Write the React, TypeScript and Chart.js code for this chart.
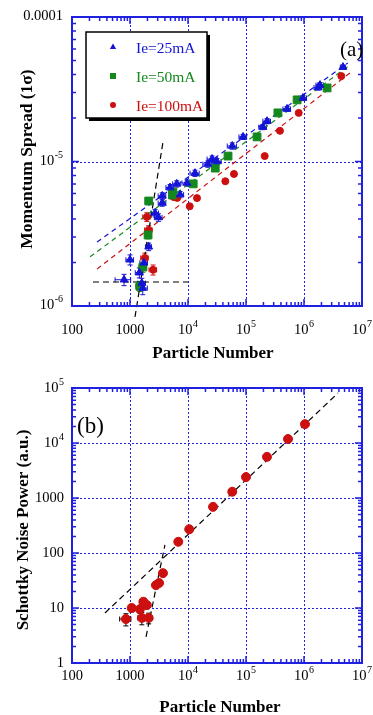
import React, { useEffect, useRef } from 'react';
import { Chart, registerables } from 'chart.js';
Chart.register(...registerables);

const SERIF = '"Liberation Serif", "Times New Roman", Times, serif';
const BLUE = '#1414d6';
const GREEN = '#14881e';
const RED = '#cc1010';
const FRAME = '#2020e0';

// ---- axes ----
const xTicks = [100, 1000, 1e4, 1e5, 1e6, 1e7];
const xTickLabels = [['100', ''], ['1000', ''], ['10', '4'], ['10', '5'], ['10', '6'], ['10', '7']];
const yTicksA = [1e-6, 1e-5, 1e-4];
const yTickLabelsA = [['10', '-6'], ['10', '-5'], ['0.0001', '']];
const yTicksB = [1, 10, 100, 1000, 1e4, 1e5];
const yTickLabelsB = [['1', ''], ['10', ''], ['100', ''], ['1000', ''], ['10', '4'], ['10', '5']];

const seriesNames = ['Ie=25mA', 'Ie=50mA', 'Ie=100mA'];

// ---- panel (a): [particle number, momentum spread, rel. err N, rel. err sigma] ----
const ie25 = [
  [790, 1.52e-6, 0.3, 0.09], [1000, 2.09e-6, 0.15, 0.08], [1450, 1.7e-6, 0.15, 0.08],
  [1660, 1.33e-6, 0.2, 0.1], [1600, 1.44e-6, 0.15, 0.08], [1740, 1.99e-6, 0.15, 0.08],
  [2100, 2.57e-6, 0.12, 0.06], [2700, 4.4e-6, 0.15, 0.06], [3100, 4.1e-6, 0.15, 0.06],
  [3600, 5.78e-6, 0.15, 0.05], [3600, 5.16e-6, 0.15, 0.05], [4900, 6.6e-6, 0.15, 0.05],
  [6400, 7.0e-6, 0.15, 0.05], [7300, 5.9e-6, 0.15, 0.05], [9600, 7.1e-6, 0.18, 0.05],
  [13200, 8.3e-6, 0.18, 0.05], [22000, 9.6e-6, 0.18, 0.05], [26000, 1.04e-5, 0.18, 0.05],
  [31600, 1.0e-5, 0.18, 0.05], [58000, 1.28e-5, 0.18, 0.05], [89000, 1.48e-5, 0.15, 0.04],
  [196000, 1.73e-5, 0.15, 0.04], [230000, 1.9e-5, 0.15, 0.04], [510000, 2.31e-5, 0.15, 0.04],
  [960000, 2.75e-5, 0.15, 0.04], [1.75e6, 3.25e-5, 0.15, 0.04], [1.89e6, 3.38e-5, 0.15, 0.04],
  [4.7e6, 4.5e-5, 0.1, 0.03],
];
const ie50 = [
  [1480, 1.37e-6, 0.15, 0.08], [1670, 1.86e-6, 0.15, 0.08], [2050, 3.1e-6, 0.12, 0.06],
  [2100, 5.33e-6, 0.12, 0.05], [5500, 6.15e-6, 0.1, 0.04], [5400, 5.86e-6, 0.1, 0.04],
  [12300, 7.0e-6, 0.08, 0.03], [29500, 9.0e-6, 0.08, 0.03], [49000, 1.09e-5, 0.08, 0.03],
  [155000, 1.48e-5, 0.08, 0.03], [355000, 2.17e-5, 0.08, 0.03], [760000, 2.67e-5, 0.08, 0.03],
  [2.5e6, 3.23e-5, 0.08, 0.03],
];
const ie100 = [
  [1800, 2.15e-6, 0.15, 0.08], [2500, 1.78e-6, 0.15, 0.08], [1950, 4.13e-6, 0.15, 0.07],
  [2100, 3.36e-6, 0.15, 0.07], [6500, 5.6e-6, 0.1, 0.04], [5700, 5.67e-6, 0.1, 0.04],
  [10700, 4.9e-6, 0.08, 0.03], [14300, 5.58e-6, 0.08, 0.03], [44000, 7.3e-6, 0.08, 0.03],
  [62000, 8.2e-6, 0.08, 0.03], [210000, 1.09e-5, 0.08, 0.03], [385000, 1.63e-5, 0.08, 0.03],
  [810000, 2.17e-5, 0.08, 0.03], [4.4e6, 3.9e-5, 0.08, 0.03],
];
const fit25 = [[270, 2.77e-6], [5.7e6, 4.8e-5]];
const fit50 = [[205, 2.19e-6], [6.2e6, 4.66e-5]];
const fit100 = [[270, 1.8e-6], [6.2e6, 4.1e-5]];
const steepA = [[1220, 8.4e-7], [3700, 1.36e-5]];
const flatA = [[230, 1.466e-6], [1e4, 1.466e-6]];

// ---- panel (b): [particle number, Schottky noise power, rel. err N, rel. err P] ----
const noise = [
  [850, 6.3, 0.22, 0.25], [1070, 10, 0.12, 0.15], [1480, 9.5, 0.12, 0.15],
  [1600, 6.6, 0.15, 0.25], [1740, 12.3, 0.12, 0.15], [1700, 13, 0.12, 0.15],
  [1950, 11.3, 0.12, 0.15], [2100, 6.6, 0.15, 0.22], [2800, 26, 0.1, 0.08],
  [3170, 28.5, 0.1, 0.08], [3700, 43, 0.08, 0.05], [6800, 160, 0.05, 0.03],
  [10500, 270, 0.05, 0.03], [27000, 690, 0.05, 0.03], [58000, 1300, 0.05, 0.03],
  [100000, 2400, 0.05, 0.03], [230000, 5600, 0.05, 0.03], [530000, 11800, 0.05, 0.03],
  [1.04e6, 22000, 0.05, 0.03],
];
const noiseFit = [[370, 8.1], [3.86e6, 8.1e4]];
const noiseSteep = [[1890, 3.0], [4000, 140]];

function drawPow(ctx: CanvasRenderingContext2D, base: string, exp: string, x: number, y: number, align: string, fs: number, efs: number) {
  ctx.font = `${fs}px ${SERIF}`;
  const wb = ctx.measureText(base).width;
  ctx.font = `${efs}px ${SERIF}`;
  const we = exp ? ctx.measureText(exp).width + 0.5 : 0;
  const total = wb + we;
  const x0 = align === 'center' ? x - total / 2 : x - total;
  ctx.textAlign = 'left';
  ctx.textBaseline = 'alphabetic';
  ctx.font = `${fs}px ${SERIF}`;
  ctx.fillText(base, x0, y);
  if (exp) {
    ctx.font = `${efs}px ${SERIF}`;
    ctx.fillText(exp, x0 + wb + 0.5, y - fs * 0.45);
  }
}

function marker(ctx: CanvasRenderingContext2D, style: string, x: number, y: number, r: number, color: string) {
  ctx.fillStyle = color;
  ctx.beginPath();
  if (style === 'triangle') {
    ctx.moveTo(x, y - r);
    ctx.lineTo(x + r * 0.9, y + r * 0.6);
    ctx.lineTo(x - r * 0.9, y + r * 0.6);
    ctx.closePath();
  } else if (style === 'rect') {
    ctx.rect(x - r, y - r, 2 * r, 2 * r);
  } else {
    ctx.arc(x, y, r, 0, Math.PI * 2);
  }
  ctx.fill();
}

function makePlugin(cfg: any) {
  return {
    id: 'frame' + cfg.tag,
    beforeDatasetsDraw(chart: any) {
      const { ctx, chartArea: a } = chart;
      const sx = chart.scales.x;
      const sy = chart.scales.y;
      ctx.save();
      ctx.strokeStyle = FRAME;
      ctx.lineWidth = 1;
      ctx.setLineDash([2, 2]);
      for (const v of xTicks) {
        const px = Math.round(sx.getPixelForValue(v)) + 0.5;
        ctx.beginPath(); ctx.moveTo(px, a.top); ctx.lineTo(px, a.bottom); ctx.stroke();
      }
      for (const v of cfg.yTicks) {
        const py = Math.round(sy.getPixelForValue(v)) + 0.5;
        ctx.beginPath(); ctx.moveTo(a.left, py); ctx.lineTo(a.right, py); ctx.stroke();
      }
      ctx.setLineDash([]);
      // error bars
      for (const set of cfg.errSets) {
        ctx.strokeStyle = set.color;
        ctx.lineWidth = 1;
        for (const p of set.data) {
          const cx = sx.getPixelForValue(p[0]);
          const cy = sy.getPixelForValue(p[1]);
          const x1 = sx.getPixelForValue(p[0] * (1 - p[2]));
          const x2 = sx.getPixelForValue(p[0] * (1 + p[2]));
          const y1 = sy.getPixelForValue(p[1] * (1 - p[3]));
          const y2 = sy.getPixelForValue(p[1] * (1 + p[3]));
          const c = 2.5;
          ctx.beginPath();
          ctx.moveTo(x1, cy); ctx.lineTo(x2, cy);
          ctx.moveTo(x1, cy - c); ctx.lineTo(x1, cy + c);
          ctx.moveTo(x2, cy - c); ctx.lineTo(x2, cy + c);
          ctx.moveTo(cx, y1); ctx.lineTo(cx, y2);
          ctx.moveTo(cx - c, y1); ctx.lineTo(cx + c, y1);
          ctx.moveTo(cx - c, y2); ctx.lineTo(cx + c, y2);
          ctx.stroke();
        }
      }
      ctx.restore();
    },
    afterDatasetsDraw(chart: any) {
      const { ctx, chartArea: a } = chart;
      const sx = chart.scales.x;
      const sy = chart.scales.y;
      ctx.save();
      // minor / major ticks on all sides
      ctx.strokeStyle = FRAME;
      ctx.lineWidth = 1.5;
      const xmin = Math.log10(sx.min), xmax = Math.log10(sx.max);
      ctx.beginPath();
      for (let d = Math.round(xmin); d <= Math.round(xmax); d++) {
        for (let k = 1; k <= 9; k++) {
          const v = k * Math.pow(10, d);
          if (v < sx.min * 0.999 || v > sx.max * 1.001) continue;
          const px = sx.getPixelForValue(v);
          const L = k === 1 ? 7 : 4;
          ctx.moveTo(px, a.bottom); ctx.lineTo(px, a.bottom - L);
          ctx.moveTo(px, a.top); ctx.lineTo(px, a.top + L);
        }
      }
      const ymin = Math.log10(sy.min), ymax = Math.log10(sy.max);
      for (let d = Math.round(ymin); d <= Math.round(ymax); d++) {
        for (let k = 1; k <= 9; k++) {
          const v = k * Math.pow(10, d);
          if (v < sy.min * 0.999 || v > sy.max * 1.001) continue;
          const py = sy.getPixelForValue(v);
          const L = k === 1 ? 7 : 4;
          ctx.moveTo(a.left, py); ctx.lineTo(a.left + L, py);
          ctx.moveTo(a.right, py); ctx.lineTo(a.right - L, py);
        }
      }
      ctx.stroke();
      // frame
      ctx.lineWidth = 2;
      ctx.strokeRect(a.left, a.top, a.right - a.left, a.bottom - a.top);
      // tick labels
      ctx.fillStyle = '#000';
      xTicks.forEach((v, i) => {
        const px = sx.getPixelForValue(v);
        drawPow(ctx, xTickLabels[i][0], xTickLabels[i][1], px, cfg.xLabelBaseline, 'center', 14.5, 10);
      });
      cfg.yTicks.forEach((v: number, i: number) => {
        const py = sy.getPixelForValue(v);
        drawPow(ctx, cfg.yLabels[i][0], cfg.yLabels[i][1], cfg.yLabelRight, py + cfg.yLabelShift, 'right', 14.5, 10);
      });
      // axis titles
      ctx.font = `bold 17px ${SERIF}`;
      ctx.textAlign = 'center';
      ctx.textBaseline = 'alphabetic';
      ctx.fillText('Particle Number', cfg.xTitleX, cfg.xTitleBaseline);
      ctx.save();
      ctx.translate(cfg.yTitleX, cfg.yTitleY);
      ctx.rotate(-Math.PI / 2);
      ctx.font = `bold ${cfg.yTitleSize}px ${SERIF}`;
      ctx.fillText(cfg.yTitle, 0, 0);
      ctx.restore();
      // panel tag
      ctx.font = `${cfg.tagSize}px ${SERIF}`;
      ctx.textAlign = 'left';
      ctx.fillText(cfg.tag, cfg.tagX, cfg.tagY);
      // legend
      if (cfg.legend) {
        const lx = 86, ly = 32, lw = 121, lh = 86;
        ctx.fillStyle = '#000';
        ctx.fillRect(lx + 3, ly + 3, lw, lh);
        ctx.fillStyle = '#fff';
        ctx.fillRect(lx, ly, lw, lh);
        ctx.strokeStyle = '#000';
        ctx.lineWidth = 1.5;
        ctx.strokeRect(lx, ly, lw, lh);
        const rows = [
          { name: seriesNames[0], color: BLUE, style: 'triangle', y: 47, r: 3.5 },
          { name: seriesNames[1], color: GREEN, style: 'rect', y: 76, r: 3 },
          { name: seriesNames[2], color: RED, style: 'circle', y: 105, r: 3 },
        ];
        ctx.font = `15.5px ${SERIF}`;
        ctx.textAlign = 'left';
        for (const r of rows) {
          marker(ctx, r.style, 113, r.y, r.r, r.color);
          ctx.fillStyle = r.color;
          ctx.fillText(r.name, 136, r.y + 5.5);
        }
      }
      ctx.restore();
    },
  };
}

function pts(arr: number[][]) {
  return arr.map((p) => ({ x: p[0], y: p[1] }));
}

function lineSet(arr: number[][], color: string, dash: number[]) {
  return {
    data: pts(arr), showLine: true, pointRadius: 0, borderColor: color, borderWidth: 1.2,
    borderDash: dash, fill: false, clip: false as any,
  };
}

function baseOptions(ymin: number, ymax: number, padding: any) {
  return {
    animation: false as const,
    responsive: false,
    events: [] as any,
    layout: { padding },
    plugins: { legend: { display: false }, tooltip: { enabled: false } },
    scales: {
      x: { type: 'logarithmic' as const, min: 100, max: 1e7, display: false },
      y: { type: 'logarithmic' as const, min: ymin, max: ymax, display: false },
    },
  };
}

export default function App() {
  const refA = useRef<HTMLCanvasElement>(null);
  const refB = useRef<HTMLCanvasElement>(null);
  useEffect(() => {
    const cfgA = {
      tag: '(a)', tagX: 340, tagY: 56, tagSize: 21,
      yTicks: yTicksA, yLabels: yTickLabelsA, yLabelRight: 63, yLabelShift: 3,
      xLabelBaseline: 334, xTitleX: 213, xTitleBaseline: 358,
      yTitle: 'Momentum Spread (1σ)', yTitleX: 32, yTitleY: 159, yTitleSize: 17.5,
      legend: true,
      errSets: [
        { data: ie25, color: BLUE }, { data: ie50, color: GREEN }, { data: ie100, color: RED },
      ],
    };
    const cfgB = {
      tag: '(b)', tagX: 77, tagY: 433 - 360, tagSize: 23,
      yTicks: yTicksB, yLabels: yTickLabelsB, yLabelRight: 64, yLabelShift: 4,
      xLabelBaseline: 680 - 360, xTitleX: 220, xTitleBaseline: 712 - 360,
      yTitle: 'Schottky Noise Power (a.u.)', yTitleX: 28, yTitleY: 530 - 360, yTitleSize: 17,
      legend: false,
      errSets: [{ data: noise, color: '#000' }],
    };

    const chartA = new Chart(refA.current as HTMLCanvasElement, {
      type: 'scatter',
      data: {
        datasets: [
          { data: pts(ie25), pointStyle: 'triangle', pointRadius: 4.5, backgroundColor: BLUE, borderColor: BLUE, borderWidth: 1 },
          { data: pts(ie50), pointStyle: 'rect', pointRadius: 5.5, backgroundColor: GREEN, borderColor: GREEN, borderWidth: 1 },
          { data: pts(ie100), pointStyle: 'circle', pointRadius: 3.5, backgroundColor: RED, borderColor: RED, borderWidth: 1 },
          lineSet(fit25, BLUE, [5, 4]),
          lineSet(fit50, GREEN, [5, 4]),
          lineSet(fit100, RED, [5, 4]),
          lineSet(steepA, '#000', [6, 4]),
          lineSet(flatA, '#000', [6, 4]),
        ] as any,
      },
      options: baseOptions(1e-6, 1e-4, { left: 72, right: 11, top: 17, bottom: 54 }) as any,
      plugins: [makePlugin(cfgA)],
    });
    const chartB = new Chart(refB.current as HTMLCanvasElement, {
      type: 'scatter',
      data: {
        datasets: [
          { data: pts(noise), pointStyle: 'circle', pointRadius: 4.5, backgroundColor: RED, borderColor: RED, borderWidth: 1 },
          lineSet(noiseFit, '#000', [6, 4]),
          lineSet(noiseSteep, '#000', [6, 4]),
        ] as any,
      },
      options: baseOptions(1, 1e5, { left: 72, right: 11, top: 28, bottom: 52 }) as any,
      plugins: [makePlugin(cfgB)],
    });
    return () => {
      chartA.destroy();
      chartB.destroy();
    };
  }, []);
  return (
    <div style={{ position: 'absolute', left: 0, top: 0, width: 373, height: 715, background: '#fff' }}>
      <canvas ref={refA} width={373} height={360} style={{ position: 'absolute', left: 0, top: 0 }} />
      <canvas ref={refB} width={373} height={355} style={{ position: 'absolute', left: 0, top: 360 }} />
    </div>
  );
}
